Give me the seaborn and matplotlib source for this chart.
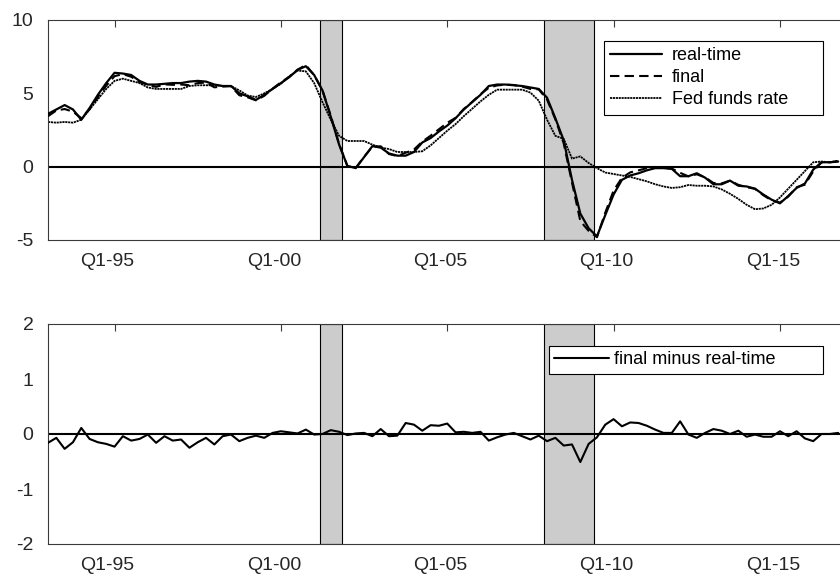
import numpy as np
import pandas as pd
import matplotlib
matplotlib.use("Agg")
import matplotlib.pyplot as plt
import matplotlib.transforms as mtransforms
import seaborn as sns

# ---------------- data ----------------
quarters = [1993 + 0.25 * i for i in range(96)]  # Q1-93 ... Q4-16

real_time = [
    3.6, 3.9, 4.2, 3.9, 3.2, 4.0, 4.9, 5.7,
    6.4, 6.35, 6.25, 5.85, 5.6, 5.6, 5.65, 5.7,
    5.7, 5.8, 5.85, 5.8, 5.6, 5.5, 5.5, 5.0,
    4.8, 4.55, 4.9, 5.3, 5.7, 6.1, 6.6, 6.85,
    6.25, 5.2, 3.4, 1.5, 0.05, -0.1, 0.65, 1.4,
    1.3, 0.9, 0.75, 0.75, 1.0, 1.65, 1.95, 2.4,
    2.8, 3.3, 3.9, 4.4, 4.9, 5.5, 5.6, 5.6,
    5.55, 5.5, 5.4, 5.3, 4.7, 3.3, 1.8, -0.9,
    -3.2, -4.2, -4.75, -3.3, -1.9, -0.9, -0.6, -0.45,
    -0.25, -0.1, -0.1, -0.15, -0.65, -0.65, -0.45, -0.75,
    -1.2, -1.2, -0.95, -1.3, -1.35, -1.5, -1.9, -2.25,
    -2.5, -2.0, -1.45, -1.15, -0.2, 0.3, 0.3, 0.35,
]

final = [
    3.44, 3.83, 3.93, 3.75, 3.31, 3.91, 4.75, 5.52,
    6.17, 6.31, 6.13, 5.76, 5.59, 5.44, 5.61, 5.58,
    5.60, 5.55, 5.70, 5.73, 5.41, 5.46, 5.49, 4.87,
    4.73, 4.52, 4.83, 5.32, 5.75, 6.13, 6.61, 6.93,
    6.24, 5.20, 3.47, 1.54, 0.03, -0.09, 0.67, 1.36,
    1.39, 0.86, 0.72, 0.95, 1.17, 1.71, 2.11, 2.55,
    2.99, 3.33, 3.94, 4.42, 4.94, 5.38, 5.54, 5.59,
    5.57, 5.46, 5.30, 5.27, 4.57, 3.23, 1.59, -1.09,
    -3.71, -4.38, -4.81, -3.13, -1.63, -0.76, -0.39, -0.25,
    -0.10, -0.02, -0.08, -0.13, -0.42, -0.66, -0.52, -0.73,
    -1.11, -1.14, -0.95, -1.24, -1.40, -1.51, -1.95, -2.30,
    -2.45, -2.04, -1.40, -1.23, -0.33, 0.30, 0.30, 0.37,
]

fed_funds = [
    3.05, 3.0, 3.05, 3.0, 3.2, 3.9, 4.6, 5.3,
    5.85, 6.0, 5.85, 5.7, 5.4, 5.3, 5.3, 5.3,
    5.3, 5.5, 5.55, 5.55, 5.55, 5.5, 5.5, 5.2,
    4.85, 4.75, 5.0, 5.3, 5.65, 6.15, 6.55, 6.5,
    5.7, 4.4, 3.2, 2.1, 1.75, 1.75, 1.75, 1.5,
    1.3, 1.2, 1.0, 1.0, 1.0, 1.05, 1.45, 1.95,
    2.45, 2.9, 3.45, 3.95, 4.45, 4.9, 5.25, 5.25,
    5.25, 5.25, 5.05, 4.5, 3.2, 2.1, 1.9, 0.55,
    0.7, 0.25, -0.1, -0.4, -0.5, -0.6, -0.7, -0.85,
    -1.0, -1.2, -1.35, -1.45, -1.4, -1.25, -1.3, -1.3,
    -1.35, -1.55, -1.85, -2.2, -2.6, -2.9, -2.85, -2.6,
    -2.1, -1.5, -0.9, -0.3, 0.3, 0.35, 0.3, 0.4,
]

recessions = [(2001.17, 2001.83), (2007.92, 2009.42)]
tick_years = [1995, 2000, 2005, 2010, 2015]
tick_labels = ["Q1-95", "Q1-00", "Q1-05", "Q1-10", "Q1-15"]
top_yticks = [-5, 0, 5, 10]
bottom_yticks = [-2, -1, 0, 1, 2]

df = pd.DataFrame({
    "quarter": quarters,
    "real-time": real_time,
    "final": final,
    "Fed funds rate": fed_funds,
})
df["final minus real-time"] = df["final"] - df["real-time"]

# ---------------- style ----------------
sns.set_style("white")
plt.rcParams["font.family"] = ["Liberation Sans", "DejaVu Sans"]
TXT = "#262626"
SPINE = "#3a3a3a"

W, H = 840, 575
fig = plt.figure(figsize=(W / 100, H / 100), dpi=100)
left_px, right_px = 48, 842
ax1 = fig.add_axes([left_px / W, 1 - 240 / H, (right_px - left_px) / W, 220 / H])
ax2 = fig.add_axes([left_px / W, 1 - 544 / H, (right_px - left_px) / W, 220 / H])

xmin, xmax = 1993.0, 1993.0 + (right_px - left_px) / 33.27
shift_left = mtransforms.ScaledTranslation(-7 / 100, 0, fig.dpi_scale_trans)


def style_axes(ax, ylim, yticks):
    ax.set_xlim(xmin, xmax)
    ax.set_ylim(*ylim)
    ax.set_xticks(tick_years)
    ax.set_xticklabels(tick_labels)
    ax.set_yticks(yticks)
    ax.set_yticklabels([str(v) for v in yticks])
    ax.tick_params(axis="both", direction="in", length=5, width=0.8,
                   color=SPINE, labelsize=14, labelcolor=TXT,
                   top=True, right=False)
    ax.tick_params(axis="x", pad=9)
    ax.tick_params(axis="y", pad=10.5)
    for lab in ax.get_xticklabels():
        lab.set_transform(lab.get_transform() + shift_left)
    for s in ax.spines.values():
        s.set_color(SPINE)
        s.set_linewidth(0.8)
    ax.set_xlabel("")
    ax.set_ylabel("")
    for a, b in recessions:
        ax.axvspan(a, b, facecolor="#cccccc", edgecolor="black",
                   linewidth=0.8, zorder=0.5)
    ax.axhline(0, color="black", lw=1.5, zorder=1)


# ---------------- top panel ----------------
sns.lineplot(data=df, x="quarter", y="real-time", ax=ax1, color="black",
             lw=1.6, label="real-time", zorder=3)
sns.lineplot(data=df, x="quarter", y="final", ax=ax1, color="black",
             lw=1.5, linestyle=(0, (4.5, 2.5)), label="final", zorder=3)
sns.lineplot(data=df, x="quarter", y="Fed funds rate", ax=ax1, color="black",
             lw=1.3, linestyle=(0, (1.2, 0.4)), label="Fed funds rate", zorder=2)
style_axes(ax1, (-5, 10), top_yticks)
leg1 = ax1.legend(loc="upper left", bbox_to_anchor=(0.700, 0.905, 0.276, 0.0),
                  mode="expand",
                  fontsize=13, frameon=True, fancybox=False, framealpha=1,
                  edgecolor="black", handlelength=2.9, handletextpad=0.5,
                  labelspacing=0.28, borderpad=0.35, borderaxespad=0)
leg1.get_frame().set_linewidth(0.8)
for t in leg1.get_texts():
    t.set_color("black")

# ---------------- bottom panel ----------------
sns.lineplot(data=df, x="quarter", y="final minus real-time", ax=ax2,
             color="black", lw=1.5, label="final minus real-time", zorder=3)
style_axes(ax2, (-2, 2), bottom_yticks)
leg2 = ax2.legend(loc="upper left", bbox_to_anchor=(0.631, 0.9, 0.345, 0.0),
                  mode="expand",
                  fontsize=13, frameon=True, fancybox=False, framealpha=1,
                  edgecolor="black", handlelength=3.0, handletextpad=0.3,
                  borderpad=0.3, borderaxespad=0)
leg2.get_frame().set_linewidth(0.8)
for t in leg2.get_texts():
    t.set_color("black")

fig.savefig("out.png", dpi=100, facecolor="white")
